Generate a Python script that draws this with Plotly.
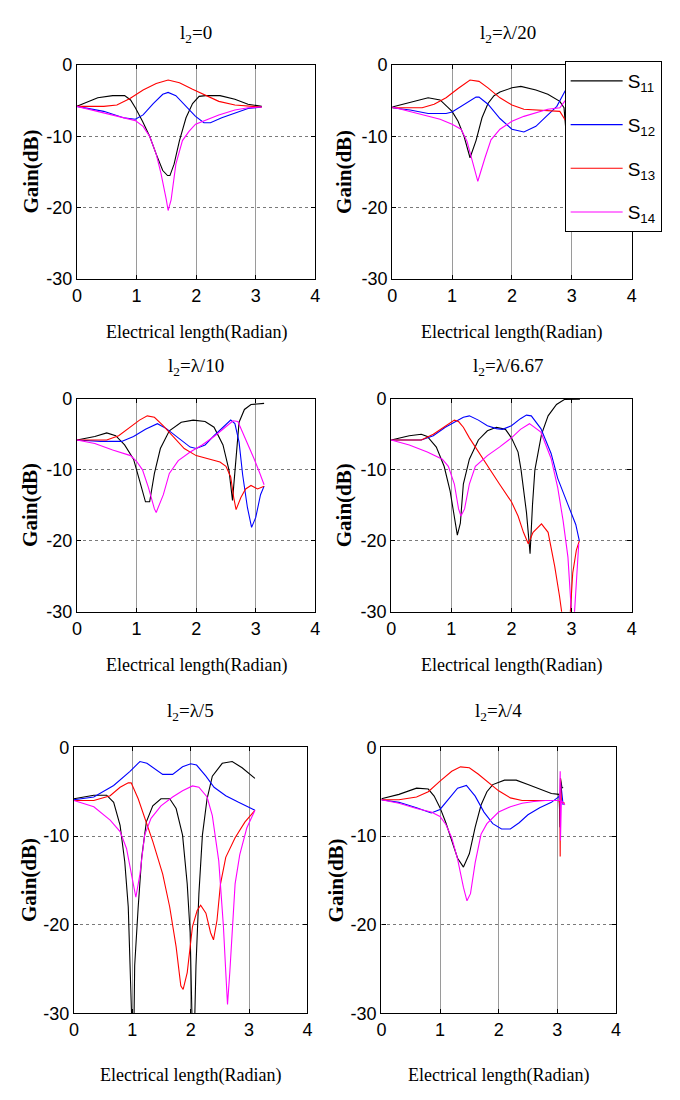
import plotly.graph_objects as go

# ---------------- data ----------------
series_names = ["S<sub>11</sub>", "S<sub>12</sub>", "S<sub>13</sub>", "S<sub>14</sub>"]
series_colors = ["#000000", "#0000ff", "#ff0000", "#ff00ff"]
panel_titles = ["l<sub>2</sub>=0", "l<sub>2</sub>=λ/20", "l<sub>2</sub>=λ/10",
                "l<sub>2</sub>=λ/6.67", "l<sub>2</sub>=λ/5", "l<sub>2</sub>=λ/4"]
x_ticks = [0, 1, 2, 3, 4]
y_ticks = [-30, -20, -10, 0]
y_tick_text = ["-30", "-20", "-10", "0"]

# Panel 1: l2 = 0
p1_s11_x = [0, 0.15, 0.35, 0.6, 0.8, 0.9, 0.98, 1.1, 1.22, 1.33, 1.44, 1.52, 1.56, 1.63, 1.72, 1.83, 1.94, 2.05, 2.16, 2.4, 2.65, 2.87, 3.1]
p1_s11_y = [-5.8, -5.3, -4.6, -4.3, -4.3, -4.9, -6.0, -7.9, -10.0, -12.5, -14.8, -15.5, -15.5, -13.9, -10.6, -7.4, -5.4, -4.4, -4.3, -4.3, -4.8, -5.5, -5.8]
p1_s12_x = [0, 0.45, 0.78, 0.98, 1.11, 1.28, 1.44, 1.53, 1.66, 1.83, 1.99, 2.13, 2.24, 2.43, 2.65, 2.87, 3.1]
p1_s12_y = [-5.8, -6.5, -7.4, -7.6, -7.0, -5.4, -4.1, -3.85, -4.3, -5.8, -7.2, -8.1, -8.1, -7.4, -6.7, -6.1, -5.9]
p1_s13_x = [0, 0.45, 0.67, 0.89, 1.11, 1.33, 1.53, 1.72, 1.94, 2.16, 2.38, 2.65, 3.1]
p1_s13_y = [-5.8, -5.8, -5.6, -4.7, -3.5, -2.6, -2.1, -2.5, -3.4, -4.3, -5.1, -5.6, -5.9]
p1_s14_x = [0, 0.45, 0.78, 0.98, 1.11, 1.22, 1.33, 1.41, 1.5, 1.53, 1.58, 1.66, 1.77, 1.88, 1.99, 2.16, 2.38, 2.65, 2.87, 3.1]
p1_s14_y = [-5.8, -6.7, -7.4, -7.8, -8.6, -10.0, -12.5, -15.2, -18.9, -20.4, -18.9, -13.9, -10.6, -9.3, -8.3, -7.7, -7.0, -6.3, -6.0, -5.9]

# Panel 2: l2 = lambda/20
p2_s11_x = [0, 0.3, 0.6, 0.8, 1.0, 1.1, 1.2, 1.3, 1.4, 1.5, 1.6, 1.7, 1.8, 2.0, 2.15, 2.4, 2.6, 2.8, 2.87, 2.9, 2.95, 3.05, 3.12]
p2_s11_y = [-5.9, -5.3, -4.6, -4.9, -6.5, -7.9, -10.0, -13.0, -10.6, -7.4, -5.4, -4.3, -3.8, -3.2, -3.0, -3.5, -4.1, -5.1, -6.0, -9.0, -9.5, -8.0, -6.5]
p2_s12_x = [0, 0.3, 0.6, 0.9, 1.0, 1.2, 1.4, 1.45, 1.6, 1.8, 2.0, 2.2, 2.4, 2.6, 2.75, 2.89, 3.0, 3.12]
p2_s12_y = [-6.0, -6.3, -6.8, -6.8, -6.6, -5.5, -4.5, -4.5, -5.5, -7.5, -9.0, -9.4, -8.6, -7.0, -5.8, -3.6, -3.5, -4.5]
p2_s13_x = [0, 0.5, 0.7, 0.9, 1.1, 1.3, 1.45, 1.6, 1.8, 2.0, 2.2, 2.4, 2.6, 2.8, 2.89, 3.0, 3.12]
p2_s13_y = [-6.0, -6.0, -5.5, -4.6, -3.3, -2.1, -2.3, -3.2, -4.6, -5.6, -6.2, -6.3, -6.3, -6.5, -7.7, -7.0, -6.5]
p2_s14_x = [0, 0.5, 0.8, 1.0, 1.15, 1.25, 1.35, 1.43, 1.55, 1.65, 1.8, 2.0, 2.2, 2.4, 2.6, 2.8, 2.89, 3.0, 3.12]
p2_s14_y = [-5.9, -6.9, -7.6, -8.3, -9.0, -10.7, -14.0, -16.3, -13.0, -10.5, -9.0, -7.9, -7.2, -6.7, -6.2, -6.0, -5.0, -5.0, -5.5]

# Panel 3: l2 = lambda/10
p3_s11_x = [0, 0.3, 0.5, 0.65, 0.8, 0.95, 1.05, 1.15, 1.22, 1.3, 1.4, 1.55, 1.75, 1.95, 2.15, 2.3, 2.45, 2.55, 2.61, 2.66, 2.7, 2.72, 2.81, 2.92, 3.14]
p3_s11_y = [-5.8, -5.3, -4.8, -5.2, -6.5, -8.5, -11.5, -14.5, -14.5, -10.5, -7.0, -4.5, -3.3, -3.0, -3.2, -4.0, -6.5, -10.0, -14.3, -9.8, -5.2, -3.3, -1.5, -0.8, -0.65]
p3_s12_x = [0, 0.4, 0.75, 0.95, 1.15, 1.35, 1.5, 1.7, 1.9, 2.0, 2.15, 2.3, 2.45, 2.58, 2.65, 2.72, 2.78, 2.86, 2.93, 3.0, 3.08, 3.14]
p3_s12_y = [-5.8, -6.0, -6.0, -5.3, -4.3, -3.5, -4.2, -5.5, -6.8, -7.0, -6.5, -5.2, -4.0, -3.0, -3.5, -6.1, -10.7, -15.3, -18.1, -16.7, -13.5, -12.3]
p3_s13_x = [0, 0.5, 0.7, 0.9, 1.05, 1.18, 1.3, 1.45, 1.6, 1.8, 2.0, 2.2, 2.4, 2.5, 2.58, 2.63, 2.67, 2.75, 2.83, 2.92, 3.03, 3.14]
p3_s13_y = [-5.8, -5.8, -5.2, -4.0, -3.0, -2.4, -2.6, -3.8, -5.2, -7.0, -8.0, -8.5, -8.9, -9.5, -11.0, -13.9, -15.6, -13.9, -12.7, -12.2, -12.7, -12.3]
p3_s14_x = [0, 0.3, 0.6, 0.9, 1.0, 1.1, 1.2, 1.3, 1.33, 1.45, 1.55, 1.7, 1.9, 2.1, 2.3, 2.5, 2.62, 2.7, 2.83, 2.97, 3.06, 3.14]
p3_s14_y = [-5.8, -6.3, -7.2, -8.0, -8.8, -10.0, -12.5, -15.5, -16.0, -13.5, -10.5, -8.7, -7.5, -6.5, -5.3, -4.0, -3.1, -3.2, -5.6, -8.4, -10.3, -12.1]

# Panel 4: l2 = lambda/6.67
p4_s11_x = [0, 0.3, 0.5, 0.6, 0.75, 0.88, 0.98, 1.05, 1.1, 1.15, 1.2, 1.3, 1.45, 1.6, 1.75, 1.9, 2.0, 2.11, 2.16, 2.25, 2.31, 2.35, 2.39, 2.5, 2.61, 2.75, 2.88, 3.14]
p4_s11_y = [-5.8, -5.2, -5.0, -5.3, -6.8, -9.5, -13.0, -17.0, -19.2, -17.5, -12.0, -8.5, -5.8, -4.5, -4.0, -4.3, -5.5, -7.5, -10.0, -16.0, -21.8, -15.0, -10.0, -5.0, -2.4, -0.8, -0.1, -0.05]
p4_s12_x = [0, 0.5, 0.7, 0.9, 1.05, 1.2, 1.3, 1.45, 1.6, 1.75, 1.85, 2.0, 2.15, 2.25, 2.33, 2.49, 2.66, 2.77, 2.94, 3.07, 3.13]
p4_s12_y = [-5.8, -5.8, -5.2, -4.0, -3.3, -2.6, -2.4, -3.0, -3.8, -4.2, -4.3, -3.8, -2.8, -2.3, -2.4, -4.2, -7.7, -11.2, -14.9, -17.7, -20.0]
p4_s13_x = [0, 0.5, 0.7, 0.9, 1.0, 1.05, 1.12, 1.2, 1.3, 1.45, 1.6, 1.8, 2.0, 2.11, 2.2, 2.28, 2.36, 2.5, 2.61, 2.72, 2.8, 2.84, 2.9, 2.98, 3.02, 3.08, 3.13]
p4_s13_y = [-5.8, -5.8, -5.0, -3.8, -3.2, -3.0, -3.2, -4.0, -5.5, -7.5, -9.5, -12.0, -14.5, -16.5, -18.8, -20.4, -18.8, -17.6, -18.8, -23.6, -27.8, -30.0, -34.0, -30.0, -24.5, -21.3, -20.0]
p4_s14_x = [0, 0.3, 0.6, 0.85, 0.95, 1.05, 1.12, 1.16, 1.22, 1.3, 1.4, 1.6, 1.8, 2.0, 2.15, 2.3, 2.49, 2.66, 2.77, 2.86, 2.94, 2.99, 3.02, 3.05, 3.08, 3.12]
p4_s14_y = [-5.8, -6.5, -7.5, -8.5, -9.5, -12.0, -15.5, -16.5, -15.5, -12.0, -9.5, -8.0, -6.8, -5.5, -4.3, -3.5, -4.7, -8.4, -12.5, -17.2, -22.3, -29.2, -33.0, -30.0, -25.5, -20.4]

# Panel 5: l2 = lambda/5
p5_s11_x = [0, 0.34, 0.56, 0.68, 0.79, 0.87, 0.93, 0.97, 1.0, 1.03, 1.04, 1.1, 1.16, 1.24, 1.35, 1.49, 1.64, 1.75, 1.86, 1.94, 1.99, 2.03, 2.06, 2.09, 2.14, 2.2, 2.28, 2.37, 2.54, 2.71, 2.88, 3.1]
p5_s11_y = [-5.8, -5.4, -5.4, -6.2, -8.8, -12.9, -18.0, -24.6, -33.0, -30.0, -24.6, -18.0, -12.4, -8.4, -6.6, -5.8, -5.8, -6.9, -9.9, -15.4, -20.9, -33.0, -33.0, -24.6, -16.5, -9.9, -5.8, -3.25, -1.8, -1.6, -2.3, -3.5]
p5_s12_x = [0, 0.34, 0.68, 0.96, 1.13, 1.25, 1.52, 1.69, 1.86, 2.0, 2.1, 2.26, 2.4, 2.6, 2.82, 3.1]
p5_s12_y = [-5.9, -5.6, -4.3, -2.7, -1.6, -1.8, -3.05, -3.05, -2.2, -1.85, -2.0, -3.25, -4.5, -5.45, -6.2, -7.1]
p5_s13_x = [0, 0.34, 0.62, 0.79, 0.93, 0.98, 1.1, 1.24, 1.35, 1.52, 1.64, 1.75, 1.83, 1.87, 1.94, 2.03, 2.11, 2.17, 2.26, 2.34, 2.39, 2.45, 2.51, 2.6, 2.76, 2.93, 3.1]
p5_s13_y = [-6.0, -6.0, -5.45, -4.5, -4.0, -4.0, -5.8, -8.4, -10.6, -14.3, -18.0, -22.5, -26.9, -27.3, -25.4, -20.2, -18.4, -17.8, -18.7, -20.9, -21.7, -19.5, -15.4, -12.4, -10.2, -8.4, -7.1]
p5_s14_x = [0, 0.34, 0.62, 0.79, 0.9, 0.99, 1.06, 1.13, 1.21, 1.32, 1.49, 1.69, 1.86, 2.03, 2.14, 2.28, 2.37, 2.48, 2.56, 2.6, 2.63, 2.67, 2.71, 2.76, 2.84, 2.96, 3.1]
p5_s14_y = [-6.0, -6.7, -8.2, -9.5, -11.4, -14.3, -16.9, -14.3, -9.9, -8.0, -6.6, -5.6, -4.9, -4.35, -4.5, -5.6, -7.7, -12.8, -20.2, -25.3, -29.0, -25.3, -20.2, -15.4, -12.1, -9.1, -7.1]

# Panel 6: l2 = lambda/4
p6_s11_x = [0, 0.3, 0.6, 0.8, 0.9, 1.0, 1.1, 1.2, 1.3, 1.4, 1.5, 1.6, 1.7, 1.8, 1.9, 2.1, 2.3, 2.5, 2.7, 2.9, 3.03, 3.05, 3.055, 3.08, 3.1]
p6_s11_y = [-5.8, -5.3, -4.6, -4.7, -5.5, -6.8, -8.5, -10.5, -12.5, -13.5, -12.0, -9.0, -6.5, -5.0, -4.2, -3.7, -3.7, -4.2, -4.7, -5.2, -5.3, -9.0, -3.5, -4.5, -4.6]
p6_s12_x = [0, 0.3, 0.6, 0.85, 1.0, 1.15, 1.3, 1.45, 1.6, 1.75, 1.9, 2.05, 2.2, 2.35, 2.5, 2.7, 2.9, 3.04, 3.05, 3.06, 3.1]
p6_s12_y = [-5.9, -6.2, -6.8, -7.4, -7.0, -5.8, -4.6, -4.3, -5.5, -7.3, -8.6, -9.2, -9.2, -8.5, -7.6, -6.8, -6.2, -5.5, -9.0, -4.0, -6.5]
p6_s13_x = [0, 0.3, 0.6, 0.8, 1.0, 1.2, 1.35, 1.5, 1.65, 1.8, 2.0, 2.2, 2.4, 2.6, 2.8, 3.03, 3.045, 3.05, 3.055, 3.07, 3.13]
p6_s13_y = [-5.9, -5.9, -5.6, -5.0, -3.8, -2.7, -2.2, -2.3, -3.0, -3.8, -4.9, -5.7, -6.0, -6.0, -6.0, -6.0, -6.5, -12.3, -3.5, -6.2, -6.3]
p6_s14_x = [0, 0.3, 0.6, 0.85, 1.0, 1.1, 1.2, 1.3, 1.4, 1.46, 1.52, 1.6, 1.7, 1.8, 2.0, 2.2, 2.4, 2.6, 2.8, 3.04, 3.05, 3.055, 3.07, 3.1, 3.13]
p6_s14_y = [-5.9, -6.3, -6.9, -7.3, -7.8, -8.7, -10.2, -12.6, -15.8, -17.3, -16.5, -13.0, -9.8, -8.6, -7.3, -6.7, -6.3, -6.1, -6.0, -6.0, -2.7, -10.5, -6.0, -6.3, -6.5]

panels = [
    [(p1_s11_x, p1_s11_y), (p1_s12_x, p1_s12_y), (p1_s13_x, p1_s13_y), (p1_s14_x, p1_s14_y)],
    [(p2_s11_x, p2_s11_y), (p2_s12_x, p2_s12_y), (p2_s13_x, p2_s13_y), (p2_s14_x, p2_s14_y)],
    [(p3_s11_x, p3_s11_y), (p3_s12_x, p3_s12_y), (p3_s13_x, p3_s13_y), (p3_s14_x, p3_s14_y)],
    [(p4_s11_x, p4_s11_y), (p4_s12_x, p4_s12_y), (p4_s13_x, p4_s13_y), (p4_s14_x, p4_s14_y)],
    [(p5_s11_x, p5_s11_y), (p5_s12_x, p5_s12_y), (p5_s13_x, p5_s13_y), (p5_s14_x, p5_s14_y)],
    [(p6_s11_x, p6_s11_y), (p6_s12_x, p6_s12_y), (p6_s13_x, p6_s13_y), (p6_s14_x, p6_s14_y)],
]

# ---------------- layout (pixel-derived positions) ----------------
W, H = 680, 1100
# (left, right, top, bottom) in pixels
boxes = [
    (73, 315, 56, 274), (393, 636, 56, 274),
    (73, 315, 396, 613), (392, 636, 396, 613),
    (70, 307, 751, 1022), (382, 620, 751, 1022),
]
title_pos = [(194, 24), (511, 24), (194, 364), (511, 364), (188, 715), (501, 715)]
xtitle_y = [328, 328, 668, 668, 1085, 1085]
ytitle_x = [26, 344, 26, 344, 25, 336]

fig = go.Figure()
for p, series in enumerate(panels):
    ax = "" if p == 0 else str(p + 1)
    for s, (xs, ys) in enumerate(series):
        fig.add_trace(go.Scatter(
            x=xs, y=ys, mode="lines",
            line=dict(color=series_colors[s], width=1.1),
            name=series_names[s], legendgroup=f"g{s}", showlegend=(p == 0),
            xaxis="x" + ax, yaxis="y" + ax, hoverinfo="skip",
        ))

serif = "Liberation Serif"
sans = "Liberation Sans"
layout = dict(
    width=W, height=H, margin=dict(l=0, r=0, t=0, b=0),
    paper_bgcolor="white", plot_bgcolor="white",
    showlegend=True, hovermode=False,
    legend=dict(
        x=568 / W, y=1 - 52 / H, xanchor="left", yanchor="top",
        bgcolor="white", bordercolor="black", borderwidth=1,
        font=dict(family=sans, size=19, color="black"),
        tracegroupgap=16, itemwidth=52,
    ),
    annotations=[],
)
for p, (l, r, t, b) in enumerate(boxes):
    ax = "" if p == 0 else str(p + 1)
    common = dict(
        showline=True, linecolor="black", linewidth=1.3, mirror="ticks",
        ticks="inside", ticklen=4, tickcolor="black", tickwidth=1,
        showgrid=True, gridwidth=1,
        zeroline=False, tickfont=dict(family=sans, size=18, color="black"),
    )
    layout["xaxis" + ax] = dict(
        common, domain=[l / W, r / W], range=[0, 4], tickvals=x_ticks,
        anchor="y" + ax, gridcolor="#9a9a9a", griddash="solid",
    )
    layout["yaxis" + ax] = dict(
        common, domain=[1 - b / H, 1 - t / H], range=[-30, 0],
        tickvals=y_ticks, ticktext=y_tick_text, anchor="x" + ax,
        gridcolor="#7a7a7a", griddash="dot",
    )
    tx, ty = title_pos[p]
    layout["annotations"].append(dict(
        text=panel_titles[p], x=tx / W, y=1 - ty / H, xref="paper", yref="paper",
        showarrow=False, xanchor="center", yanchor="middle",
        font=dict(family=serif, size=19, color="black"),
    ))
    layout["annotations"].append(dict(
        text="Electrical length(Radian)", x=(l + r) / 2 / W, y=1 - xtitle_y[p] / H,
        xref="paper", yref="paper", showarrow=False, xanchor="center", yanchor="middle",
        font=dict(family=serif, size=18, color="black"),
    ))
    layout["annotations"].append(dict(
        text="<b>Gain(dB)</b>", x=ytitle_x[p] / W, y=1 - (t + b) / 2 / H,
        xref="paper", yref="paper", showarrow=False, xanchor="center", yanchor="middle",
        textangle=-90, font=dict(family=serif, size=21, color="black"),
    ))

fig.update_layout(layout)
fig.write_html(
    "out.html",
    config={"displayModeBar": False},
    post_script="document.documentElement.style.margin='0';document.body.style.margin='0';"
                "document.documentElement.style.overflow='hidden';document.body.style.overflow='hidden';",
)
